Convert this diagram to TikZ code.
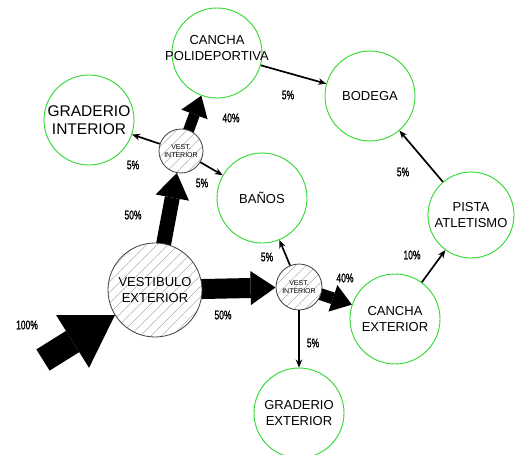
\documentclass[tikz,border=0pt]{standalone}
\usepackage{fontspec}
\setmainfont{Liberation Sans}
\newfontfamily\pctfont[FakeStretch=0.68, FakeBold=1.2]{Liberation Sans}
\usetikzlibrary{arrows.meta,patterns.meta}
\pgfdeclarelayer{bg}
\pgfsetlayers{bg,main}
\definecolor{zonegreen}{RGB}{45,215,45}

\begin{document}
\begin{tikzpicture}[
    x=1pt, y=-1pt,
    zone/.style={circle, draw=zonegreen, line width=0.9pt, fill=white, minimum size=90pt, inner sep=0pt},
    hall/.style={circle, draw=black!75, line width=0.8pt, preaction={fill=white}, pattern={Lines[angle=45, distance=7.5pt, line width=0.35pt]}, pattern color=black!40, inner sep=0pt},
    zonetext/.style={align=center, font=\fontsize{13}{16}\selectfont},
    halltext/.style={align=center, font=\fontsize{7}{8}\selectfont},
    pct/.style={font=\pctfont\fontsize{12.5}{13}\selectfont},
    flow/.style={-{Stealth[length=8pt, width=6.5pt]}, line width=1.7pt},
    block/.style n args={3}{line width=#1, -{Triangle[width=#2, length=#3, line width=0pt]}}
]
\useasboundingbox (0,0) rectangle (515,455);

% Zones
\node[zone, label={[zonetext, yshift=5pt]center:CANCHA\\POLIDEPORTIVA}] (poli) at (217,53) {};
\node[zone, label={[zonetext]center:BODEGA}] (bodega) at (370,96) {};
\node[zone, label={[zonetext, font=\fontsize{15.5}{18}\selectfont]center:GRADERIO\\INTERIOR}] (grdint) at (89,120) {};
\node[zone, label={[zonetext]center:BAÑOS}] (banos) at (262,198) {};
\node[zone, minimum size=86pt, label={[zonetext]center:PISTA\\ATLETISMO}] (pista) at (471,215) {};
\node[zone, label={[zonetext]center:CANCHA\\EXTERIOR}] (cext) at (395,319) {};
\node[zone, label={[zonetext]center:GRADERIO\\EXTERIOR}] (grdext) at (299,413) {};

% Halls
\node[hall, minimum size=94pt, label={[zonetext]center:VESTIBULO\\EXTERIOR}] (vext) at (155,290) {};
\node[hall, minimum size=44pt, label={[halltext]center:VEST.\\INTERIOR}] (vint) at (181,151) {};
\node[hall, minimum size=46pt, label={[halltext]center:VEST.\\INTERIOR}] (vint2) at (299,287) {};

\coordinate (entry) at (43,360);

% Main flows
\begin{pgfonlayer}{bg}
\draw[block={25pt}{62pt}{50pt}] (entry) -- (vext);
\draw[block={15pt}{34pt}{25pt}] (vext.center) -- (vint);
\draw[block={11pt}{28pt}{20pt}] (vint.center) -- (poli);
\draw[block={20pt}{34pt}{25pt}] (vext.center) -- (vint2);
\draw[block={12pt}{28pt}{20pt}] (vint2.center) -- (cext);
\end{pgfonlayer}

% Minor flows
\draw[flow] (vint) -- (grdint);
\draw[flow] (vint) -- (banos);
\draw[flow] (poli) -- (bodega);
\draw[flow] (vint2) -- (banos);
\draw[flow] (vint2) -- (grdext);
\draw[flow] (cext) -- (pista);
\draw[flow] (pista) -- (bodega);

% Percentages
\node[pct] (l100) at (27,325) {100\%};
\node[pct] (l50a) at (133,215) {50\%};
\node[pct] (l40a) at (231,118) {40\%};
\node[pct] (l5a) at (133,165) {5\%};
\node[pct] (l5b) at (202,183) {5\%};
\node[pct] (l5c) at (288,95) {5\%};
\node[pct] (l5d) at (403,172) {5\%};
\node[pct] (l10) at (412,255) {10\%};
\node[pct] (l40b) at (345,278) {40\%};
\node[pct] (l5e) at (267,257) {5\%};
\node[pct] (l50b) at (223,315) {50\%};
\node[pct] (l5f) at (313,343) {5\%};

\end{tikzpicture}
\end{document}
